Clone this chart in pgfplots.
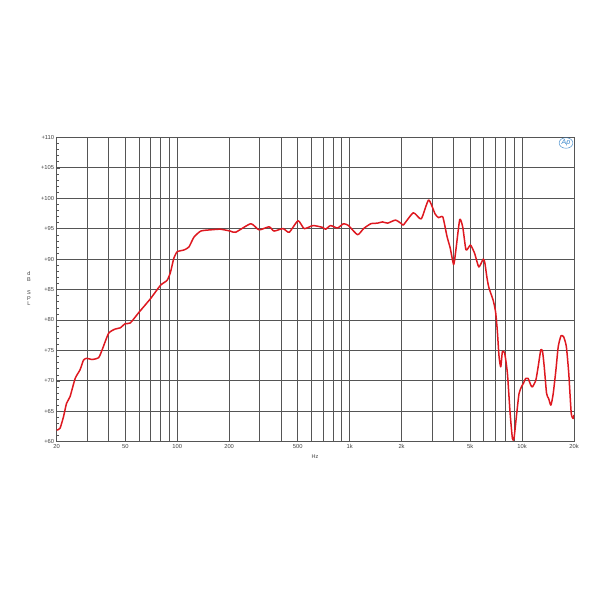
\documentclass[border=0pt]{standalone}
\usepackage{pgfplots}
\pgfplotsset{compat=1.18}
\usetikzlibrary{shapes.geometric}
\usepackage{fontspec}
\setmainfont{Liberation Sans}
\definecolor{curve}{RGB}{222,24,32}
\definecolor{gridc}{RGB}{85,85,85}
\definecolor{apblue}{RGB}{50,130,200}
\begin{document}
\begin{tikzpicture}[x=1pt,y=1pt]
\path (0,0) rectangle (600,600);
\begin{axis}[
  at={(56.7pt,158.3pt)}, anchor=south west,
  scale only axis, width=517.3pt, height=304.4pt,
  xmode=log, xmin=20, xmax=20000, ymin=60, ymax=110,
  log basis x=10,
  xtick={20,50,100,200,500,1000,2000,5000,10000,20000},
  xticklabels={20,50,100,200,500,1k,2k,5k,10k,20k},
  minor xtick={30,40,60,70,80,90,300,400,600,700,800,900,3000,4000,6000,7000,8000,9000},
  ytick={60,65,...,110},
  yticklabels={+60,+65,+70,+75,+80,+85,+90,+95,+100,+105,+110},
  minor y tick num=4,
  grid=both,
  major grid style={gridc, line width=0.7pt},
  minor grid style={gridc, line width=0.7pt},
  ymajorgrids=true, yminorgrids=false,
  xmajorgrids=true, xminorgrids=true,
  axis line style={gridc, line width=0.7pt},
  xtick style={draw=none},
  ytick pos=left, tick align=inside,
  major tick length=3pt, minor tick length=2pt,
  ytick style={gridc, line width=0.4pt},
  tick label style={font=\fontsize{5.8}{7}\selectfont, text=black!75},
  yticklabel style={xshift=1pt},
  xticklabel style={yshift=1pt},
]
\addplot[curve, line width=1.5pt, line join=round, smooth, tension=0.35] coordinates {
(20,61.9) (20.9,62.2) (21.9,64.1) (22.8,66.3) (23.9,67.4) (25.6,70.4) (27.3,71.8) (28.6,73.4) (29.9,73.7) (32.0,73.5) (35.0,73.8) (36.7,75.1) (40.0,77.8) (43.6,78.5) (46.7,78.7) (50.0,79.4) (53.4,79.5) (59.8,81.2) (70.0,83.5) (80.0,85.7) (87.3,86.5) (91.3,87.8) (95.5,90.1) (100,91.2) (109.6,91.5) (117,92.0) (125,93.6) (137,94.6) (156,94.8) (178,94.9) (203,94.6) (218,94.4) (267,95.8) (298,94.8) (341,95.3) (364,94.6) (411,95.0) (446,94.4) (502,96.3) (545,95.0) (613,95.5) (697,95.2) (725,94.9) (775,95.5) (850,95.1) (921,95.8) (985,95.5) (1111,94.0) (1204,95.0) (1326,95.8) (1452,95.9) (1550,96.1) (1661,95.9) (1844,96.4) (2000,95.8) (2050,95.6) (2340,97.6) (2600,96.6) (2870,99.7) (3130,97.4) (3280,96.8) (3470,96.9) (3670,93.7) (3830,91.8) (4010,89.1) (4130,91.5) (4350,96.5) (4530,95.2) (4730,91.5) (5020,92.3) (5310,90.9) (5610,88.7) (5950,90.0) (6080,89.4) (6250,87.0) (6420,85.3) (6800,83.2) (7020,81.3) (7180,78.3) (7350,74.0) (7520,72.3) (7690,74.8) (7930,74.5) (8220,71.2) (8520,64.7) (8790,60.5) (8980,60.6) (9310,64.7) (9600,67.9) (9910,69.0) (10180,69.6) (10500,70.4) (10830,70.4) (11230,69.3) (11480,69.0) (12010,70.1) (12390,72.3) (12840,75.1) (13140,74.8) (13440,72.3) (13870,67.9) (14250,67.1) (14690,66.0) (15150,67.9) (15710,71.8) (16200,75.6) (16810,77.4) (17430,77.2) (18060,75.6) (18650,71.2) (19270,64.7) (19800,63.8) (20000,64.4)
};
\end{axis}
\begin{scope}[every node/.style={font=\fontsize{5.5}{6}\selectfont, text=black!75, inner sep=0pt}]
\node at (29,326) {d};
\node at (29,320.5) {B};
\node at (29,307) {S};
\node at (29,301.5) {P};
\node at (29,296) {L};
\node at (315,143) {Hz};
\end{scope}
\node[font=\fontsize{7}{8}\selectfont\itshape, text=apblue, draw=apblue, ellipse, inner sep=0.6pt, line width=0.4pt] at (566,457) {Ap};
\end{tikzpicture}
\end{document}
